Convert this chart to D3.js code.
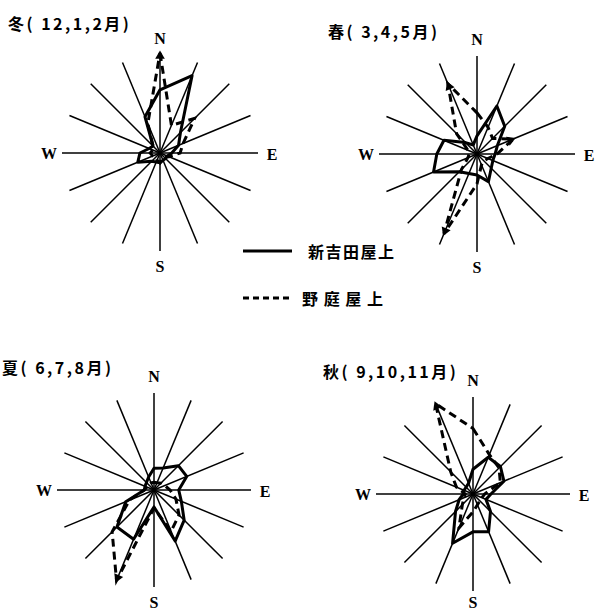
<!DOCTYPE html>
<html>
<head>
<meta charset="utf-8">
<script src="https://cdn.jsdelivr.net/npm/d3@7"></script>
<style>
  body { margin: 0; background: #fff; }
  svg { display: block; }
  .lbl { font-family: "Liberation Serif", serif; font-weight: bold; font-size: 16px; }
  .ttl { font-family: "Noto Sans CJK JP", sans-serif; font-weight: bold; font-size: 16px; }
</style>
</head>
<body>
<svg id="vis"></svg>
<script>
// 16 bearings, clockwise from N
const directions = ["N","NNE","NE","ENE","E","ESE","SE","SSE","S","SSW","SW","WSW","W","WNW","NW","NNW"]
const compassLabels = ["N","E","S","W"]
const seasons = ["冬( 12,1,2月)", "春( 3,4,5月)", "夏( 6,7,8月)", "秋( 9,10,11月)"]
const stations = ["新吉田屋上", "野 庭 屋 上"]

// frequency (%) per direction
const shinyoshida = [
  [12.9, 17.1, 5.9, 4.1, 2.4, 1.6, 1.6, 1.6, 2.0, 2.0, 2.4, 4.9, 4.1, 2.4, 2.0, 8.0],
  [3.7, 10.6, 8.0, 4.5, 3.7, 3.5, 4.1, 6.1, 4.3, 4.3, 5.1, 9.6, 8.2, 7.3, 3.3, 2.0],
  [4.5, 4.9, 7.1, 7.3, 5.1, 6.1, 8.8, 11.4, 3.5, 11.0, 10.8, 6.3, 2.0, 2.0, 2.2, 2.9],
  [5.1, 8.2, 8.0, 6.9, 3.7, 2.9, 5.1, 8.4, 7.8, 11.0, 5.1, 3.1, 2.0, 2.0, 2.0, 2.4]
]
const noba = [
  [20.4, 6.1, 10.0, 5.1, 4.1, 2.0, 1.2, 1.2, 2.0, 1.6, 1.2, 1.6, 2.0, 1.6, 2.0, 6.5],
  [8.4, 5.9, 4.5, 8.0, 4.1, 2.4, 2.0, 2.4, 6.1, 17.6, 4.5, 2.0, 1.6, 2.0, 5.9, 15.5],
  [1.6, 1.6, 2.0, 2.4, 3.3, 4.9, 7.3, 9.2, 3.7, 20.2, 12.2, 5.5, 2.0, 1.6, 1.6, 1.6],
  [13.5, 8.8, 7.6, 6.1, 2.4, 2.0, 2.0, 2.4, 3.7, 7.6, 3.1, 2.0, 1.6, 3.7, 6.5, 20.2]
]
// directions where the 野庭 trace ends in an arrow head
const nobaArrows = [["N"], ["NNW", "SSW", "ENE"], ["SSW"], ["NNW"]]

const width = 595, height = 612
const svg = d3.select("#vis").attr("width", width).attr("height", height)

const panels = [
  {cx: 160, cy: 153, R: 98, tx: 8, ty: 30},
  {cx: 477, cy: 154, R: 98, tx: 328, ty: 38},
  {cx: 154, cy: 490, R: 97, tx: 2, ty: 374},
  {cx: 473, cy: 494, R: 97, tx: 323, ty: 378}
]

const angle = d3.scalePoint().domain(directions).range([0, 2 * Math.PI * 15 / 16])

panels.forEach((p, k) => {
  const r = d3.scaleLinear().domain([0, 20]).range([0, p.R])
  const g = svg.append("g").attr("transform", `translate(${p.cx},${p.cy})`)

  // spokes
  g.selectAll("line.spoke")
    .data(directions)
    .join("line")
    .attr("class", "spoke")
    .attr("x1", 0).attr("y1", 0)
    .attr("x2", d => Math.sin(angle(d)) * r(20))
    .attr("y2", d => -Math.cos(angle(d)) * r(20))
    .attr("stroke", "#000")
    .attr("stroke-width", 1.5)

  const radial = d3.lineRadial()
    .angle((d, i) => angle(directions[i]))
    .radius(d => r(d))
    .curve(d3.curveLinearClosed)

  g.append("path")
    .attr("d", radial(shinyoshida[k]))
    .attr("fill", "none")
    .attr("stroke", "#000")
    .attr("stroke-width", 3)
    .attr("stroke-linejoin", "round")

  g.append("path")
    .attr("d", radial(noba[k]))
    .attr("fill", "none")
    .attr("stroke", "#000")
    .attr("stroke-width", 3)
    .attr("stroke-dasharray", "8,5")

  // arrow heads at the peaks
  nobaArrows[k].forEach(dir => {
    const i = directions.indexOf(dir)
    const a = angle(dir) * 180 / Math.PI
    g.append("path")
      .attr("d", d3.symbol(d3.symbolTriangle, 40)())
      .attr("transform", `rotate(${a}) translate(0,${-r(noba[k][i]) + 3})`)
      .attr("fill", "#000")
  })

  // compass labels
  const off = [[0, -p.R - 17], [p.R + 14, 1], [0, Math.min(p.R + 15, 602 - p.cy)], [-p.R - 13, 0]]
  compassLabels.forEach((t, j) => {
    g.append("text").attr("class", "lbl")
      .attr("x", off[j][0]).attr("y", off[j][1])
      .attr("text-anchor", "middle")
      .attr("dominant-baseline", "central")
      .text(t)
  })

  svg.append("text").attr("class", "ttl")
    .attr("x", p.tx).attr("y", p.ty)
    .attr("letter-spacing", 2.5)
    .text(seasons[k])
})

// legend
const legend = svg.append("g")
stations.forEach((s, i) => {
  const y = 251 + i * 47
  legend.append("line")
    .attr("x1", 243).attr("x2", 292).attr("y1", y).attr("y2", y)
    .attr("stroke", "#000").attr("stroke-width", 3)
    .attr("stroke-dasharray", i ? "6,4" : null)
  legend.append("text").attr("class", "ttl")
    .attr("x", i ? 302 : 308).attr("y", y)
    .attr("dominant-baseline", "central")
    .attr("letter-spacing", i ? 1 : 1.5)
    .text(s)
})
</script>
</body>
</html>
